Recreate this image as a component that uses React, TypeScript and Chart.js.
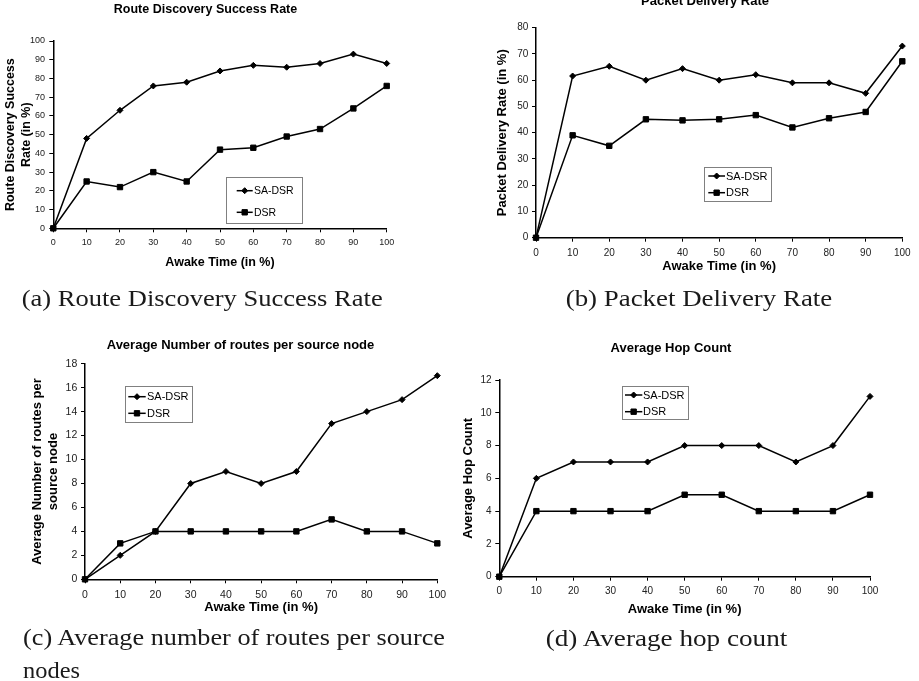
import React, { useEffect, useRef } from 'react';
import { Chart, registerables } from 'chart.js';

Chart.register(...registerables);
Chart.defaults.font.family = "'Liberation Sans', Arial, sans-serif";

// ---------- data ----------
const awakeTime = ['0', '10', '20', '30', '40', '50', '60', '70', '80', '90', '100'];
const seriesNames = ['SA-DSR', 'DSR'];

const discoverySADSR = [0, 48, 63, 76, 78, 84, 87, 86, 88, 93, 88];
const discoveryDSR = [0, 25, 22, 30, 25, 42, 43, 49, 53, 64, 76];

const deliverySADSR = [0, 61.6, 65.3, 60, 64.4, 60, 62.1, 59, 59, 55, 73];
const deliveryDSR = [0, 39, 35, 45.1, 44.7, 45.1, 46.7, 42, 45.5, 47.9, 67.2];

const routesSADSR = [0, 2, 4, 8, 9, 8, 9, 13, 14, 15, 17];
const routesDSR = [0, 3, 4, 4, 4, 4, 4, 5, 4, 4, 3];

const hopSADSR = [0, 6, 7, 7, 7, 8, 8, 8, 7, 8, 11];
const hopDSR = [0, 4, 4, 4, 4, 5, 5, 4, 4, 4, 5];

const chartTitles = [
  'Route Discovery Success Rate',
  'Packet Delivery Rate',
  'Average Number of routes per source node',
  'Average Hop Count',
];
const yTitles: (string | string[])[] = [
  ['Route Discovery Success', 'Rate (in %)'],
  'Packet Delivery Rate (in %)',
  ['Average Number of routes per', 'source node'],
  'Average Hop Count',
];
const xTitle = 'Awake Time (in %)';
const captions = [
  '(a) Route Discovery Success Rate',
  '(b) Packet Delivery Rate',
  '(c) Average number of routes per source',
  'nodes',
  '(d) Average hop count',
];

// ---------- legend plugin ----------
const boxLegend = {
  id: 'boxLegend',
  afterDraw(chart: any, _args: any, opts: any) {
    const { ctx, chartArea } = chart;
    const x0 = chartArea.left + opts.left;
    const y0 = chartArea.top + opts.top;
    ctx.save();
    ctx.fillStyle = '#ffffff';
    ctx.fillRect(x0, y0, opts.width, opts.height);
    ctx.strokeStyle = '#808080';
    ctx.lineWidth = 1;
    ctx.strokeRect(Math.round(x0) + 0.5, Math.round(y0) + 0.5, Math.round(opts.width), Math.round(opts.height));
    const rows = [opts.row1, opts.row2];
    chart.data.datasets.forEach((ds: any, i: number) => {
      const y = y0 + rows[i];
      const xa = x0 + opts.lineStart;
      const xb = x0 + opts.lineEnd;
      ctx.strokeStyle = ds.borderColor;
      ctx.lineWidth = ds.borderWidth;
      ctx.beginPath();
      ctx.moveTo(xa, y);
      ctx.lineTo(xb, y);
      ctx.stroke();
      const cx = (xa + xb) / 2;
      const r = ds.pointRadius;
      ctx.fillStyle = ds.pointBackgroundColor;
      ctx.lineWidth = 1;
      ctx.beginPath();
      if (ds.pointStyle === 'rectRot') {
        ctx.moveTo(cx - r, y);
        ctx.lineTo(cx, y - r);
        ctx.lineTo(cx + r, y);
        ctx.lineTo(cx, y + r);
        ctx.closePath();
      } else {
        const s = r * Math.SQRT1_2;
        ctx.rect(cx - s, y - s, 2 * s, 2 * s);
      }
      ctx.fill();
      ctx.stroke();
      ctx.fillStyle = '#000';
      ctx.font = `${opts.fontSize}px 'Liberation Sans', Arial, sans-serif`;
      ctx.textBaseline = 'middle';
      ctx.textAlign = 'left';
      ctx.fillText(ds.label, x0 + opts.textX, y + 0.5);
    });
    ctx.restore();
  },
};

type Panel = {
  left: number; top: number; width: number; height: number;
  title: string; yTitle: string | string[];
  yMax: number; yStep: number;
  sa: number[]; dsr: number[];
  tickSize: number; titleSize: number; legendSize: number; yTitleLH: number;
  titlePadTop: number; titlePadBottom: number;
  yTitlePad: number; xTitlePad: number;
  yWidth: number; xHeight: number; rightSpace: number;
  xTickPad: number; yTickPad: number;
  legend: any;
};

const panels: Panel[] = [
  {
    left: 0, top: 0, width: 411, height: 274,
    title: chartTitles[0], yTitle: yTitles[0], yMax: 100, yStep: 10,
    sa: discoverySADSR, dsr: discoveryDSR,
    tickSize: 9, titleSize: 12.5, legendSize: 10.5, yTitleLH: 1.28,
    titlePadTop: 2.5, titlePadBottom: 23.5, yTitlePad: 3, xTitlePad: 3.5,
    yWidth: 53.3, xHeight: 45.7, rightSpace: 24.3, xTickPad: 5.3, yTickPad: 4.3,
    legend: { left: 172.7, top: 136, width: 76, height: 46, row1: 13.7, row2: 35.3, lineStart: 10.7, lineEnd: 26.7, textX: 28 },
  },
  {
    left: 490, top: -20, width: 430, height: 295,
    title: chartTitles[1], yTitle: yTitles[1], yMax: 80, yStep: 10,
    sa: deliverySADSR, dsr: deliveryDSR,
    tickSize: 10, titleSize: 13, legendSize: 11, yTitleLH: 1.2,
    titlePadTop: 13.7, titlePadBottom: 18.4, yTitlePad: 4.9, xTitlePad: 0.5,
    yWidth: 46, xHeight: 37.3, rightSpace: 17.7, xTickPad: 5.6, yTickPad: 3.7,
    legend: { left: 168.3, top: 139, width: 67.4, height: 34, row1: 9.3, row2: 26, lineStart: 4, lineEnd: 20.7, textX: 21.7 },
  },
  {
    left: 0, top: 330, width: 481, height: 286,
    title: chartTitles[2], yTitle: yTitles[2], yMax: 18, yStep: 2,
    sa: routesSADSR, dsr: routesDSR,
    tickSize: 10.5, titleSize: 13, legendSize: 11, yTitleLH: 1.2,
    titlePadTop: 7.2, titlePadBottom: 10.9, yTitlePad: 29.9, xTitlePad: 0.9,
    yWidth: 85, xHeight: 36.7, rightSpace: 43.7, xTickPad: 5.4, yTickPad: 3.7,
    legend: { left: 40, top: 22.3, width: 66.7, height: 35.7, row1: 10.7, row2: 27.3, lineStart: 3.3, lineEnd: 20.7, textX: 22 },
  },
  {
    left: 455, top: 330, width: 432, height: 288,
    title: chartTitles[3], yTitle: yTitles[3], yMax: 12, yStep: 2,
    sa: hopSADSR, dsr: hopDSR,
    tickSize: 10, titleSize: 13, legendSize: 11, yTitleLH: 1.2,
    titlePadTop: 10.5, titlePadBottom: 23.9, yTitlePad: 5.5, xTitlePad: 0.9,
    yWidth: 44.3, xHeight: 41.3, rightSpace: 17, xTickPad: 5, yTickPad: 3.7,
    legend: { left: 122.4, top: 6, width: 66, height: 33.3, row1: 9, row2: 25.7, lineStart: 3.3, lineEnd: 20.6, textX: 21.3 },
  },
];

function buildConfig(p: Panel): any {
  const tickColor = '#222';
  return {
    type: 'line',
    data: {
      labels: awakeTime,
      datasets: [
        {
          label: seriesNames[0], data: p.sa,
          borderColor: '#000', backgroundColor: '#000', borderWidth: 1.5,
          pointStyle: 'rectRot', pointRadius: 3, pointBackgroundColor: '#000', pointBorderColor: '#000', pointBorderWidth: 1,
          tension: 0, fill: false, clip: false,
        },
        {
          label: seriesNames[1], data: p.dsr,
          borderColor: '#000', backgroundColor: '#000', borderWidth: 1.5,
          pointStyle: 'rect', pointRadius: 3.8, pointBackgroundColor: '#000', pointBorderColor: '#000', pointBorderWidth: 1,
          tension: 0, fill: false, clip: false,
        },
      ],
    },
    plugins: [boxLegend],
    options: {
      responsive: false,
      maintainAspectRatio: false,
      animation: false,
      devicePixelRatio: 1,
      events: [],
      layout: { padding: 0 },
      plugins: {
        legend: { display: false },
        tooltip: { enabled: false },
        title: {
          display: true, text: p.title, color: '#000',
          font: { size: p.titleSize, weight: 'bold', lineHeight: 1.2 },
          padding: { top: p.titlePadTop, bottom: p.titlePadBottom },
        },
        boxLegend: { ...p.legend, fontSize: p.legendSize },
      },
      scales: {
        x: {
          type: 'category', offset: false,
          afterFit: (s: any) => { s.height = p.xHeight; },
          ticks: { color: tickColor, font: { size: p.tickSize }, padding: p.xTickPad, autoSkip: false, maxRotation: 0 },
          grid: { display: true, drawOnChartArea: false, drawTicks: true, tickLength: 4, color: '#000', lineWidth: 1 },
          border: { display: true, color: '#000', width: 1.5 },
          title: {
            display: true, text: xTitle, color: '#000',
            font: { size: p.titleSize, weight: 'bold', lineHeight: 1.2 },
            padding: { top: 0, bottom: p.xTitlePad },
          },
        },
        y: {
          type: 'linear', min: 0, max: p.yMax,
          afterFit: (s: any) => { s.width = p.yWidth; },
          ticks: { stepSize: p.yStep, color: tickColor, font: { size: p.tickSize }, padding: p.yTickPad },
          grid: { display: true, drawOnChartArea: false, drawTicks: true, tickLength: 4, color: '#000', lineWidth: 1 },
          border: { display: true, color: '#000', width: 1.5 },
          title: {
            display: true, text: p.yTitle, color: '#000',
            font: { size: p.titleSize, weight: 'bold', lineHeight: p.yTitleLH },
            padding: { top: p.yTitlePad, bottom: 0 },
          },
        },
        spacer: {
          type: 'linear', position: 'right', display: true,
          afterFit: (s: any) => { s.width = p.rightSpace; },
          ticks: { display: false },
          grid: { display: false, drawTicks: false },
          border: { display: false },
        },
      },
    },
  };
}

function ChartPanel({ p }: { p: Panel }) {
  const ref = useRef<HTMLCanvasElement | null>(null);
  useEffect(() => {
    if (!ref.current) return;
    const chart = new Chart(ref.current, buildConfig(p));
    return () => chart.destroy();
  }, [p]);
  return (
    <canvas
      ref={ref}
      width={p.width}
      height={p.height}
      style={{ position: 'absolute', left: p.left, top: p.top, width: p.width, height: p.height }}
    />
  );
}

export default function App() {
  const capStyle = { fontFamily: "'Liberation Serif', 'DejaVu Serif', serif", fontSize: 23, fill: '#1a1a1a' } as any;
  return (
    <div style={{ position: 'absolute', left: 0, top: 0, width: 919, height: 681, overflow: 'hidden', background: '#fff' }}>
      {panels.map((p, i) => (
        <ChartPanel key={i} p={p} />
      ))}
      <svg width={919} height={681} style={{ position: 'absolute', left: 0, top: 0, pointerEvents: 'none' }}>
        <text x={21.7} y={306} textLength={361} lengthAdjust="spacingAndGlyphs" style={capStyle}>{captions[0]}</text>
        <text x={565.7} y={306} textLength={266.6} lengthAdjust="spacingAndGlyphs" style={capStyle}>{captions[1]}</text>
        <text x={23} y={645} textLength={422} lengthAdjust="spacingAndGlyphs" style={capStyle}>{captions[2]}</text>
        <text x={23} y={678} textLength={57} lengthAdjust="spacingAndGlyphs" style={capStyle}>{captions[3]}</text>
        <text x={545.7} y={645.5} textLength={241.6} lengthAdjust="spacingAndGlyphs" style={capStyle}>{captions[4]}</text>
      </svg>
    </div>
  );
}
